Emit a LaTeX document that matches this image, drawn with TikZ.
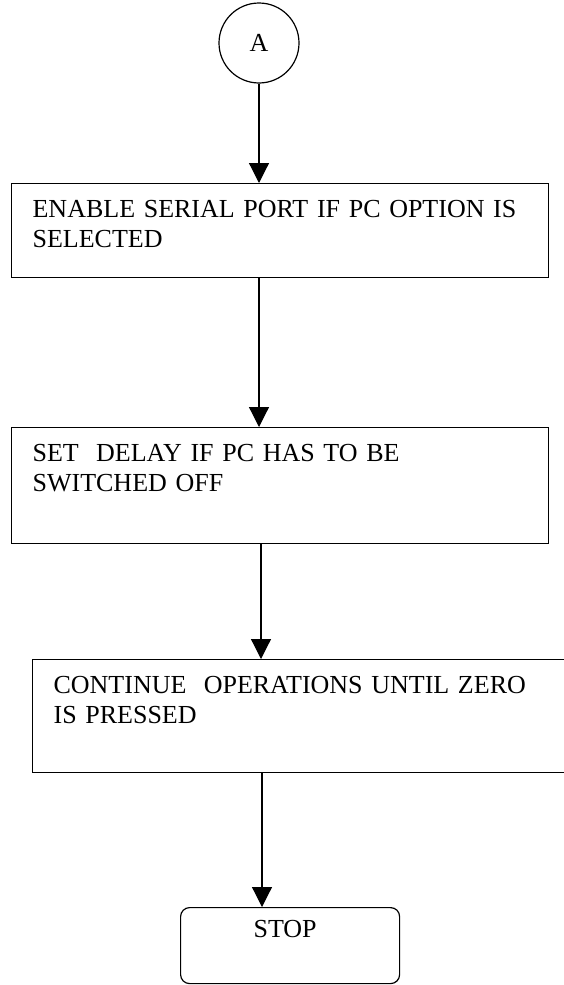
\documentclass[tikz,border=0pt]{standalone}
\usepackage{fontspec}
\setmainfont{Liberation Serif}
\usetikzlibrary{positioning, arrows.meta}

\tikzset{
  flowfont/.style={font=\fontsize{26}{30}\selectfont},
  procbox/.style={draw, rectangle, anchor=north west, flowfont, align=left,
    text width=#1, inner xsep=21pt, inner ysep=16pt, text height=18pt},
  connector/.style={draw, circle, flowfont, minimum size=80pt, inner sep=0pt},
  stopbox/.style={draw, rectangle, rounded corners=9pt, anchor=north west, flowfont,
    minimum width=219pt, inner ysep=12pt, text height=18pt, text depth=34pt}
}

\begin{document}
\begin{tikzpicture}[x=1pt, y=-1pt, >={Triangle[width=20pt,length=20pt]}, line width=1.2pt]
  \useasboundingbox (0,0) rectangle (563,985);

  \node[connector] (A) at (259,43) {A};
  \node[procbox=495pt, text depth=44pt] (enable) at (11,183)
    {ENABLE SERIAL PORT IF PC OPTION IS\\SELECTED};
  \node[procbox=495pt, text depth=66pt] (delay) at (11,427)
    {SET\ \ DELAY IF PC HAS TO BE\\SWITCHED OFF};
  \node[procbox=518pt, text depth=63pt] (cont) at (32,659)
    {CONTINUE\ \ OPERATIONS UNTIL ZERO\\IS PRESSED};
  \node[stopbox] (stop) at (180,907) {STOP\hspace*{10pt}};

  % flow lines, all on the connector's axis
  \draw[->] (A) -- (A |- enable.north);
  \draw[->] (enable.south -| A) -- (delay.north -| A);
  \draw[->] ([xshift=2pt]delay.south -| A) -- ([xshift=2pt]cont.north -| A);
  \draw[->] ([xshift=3pt]cont.south -| A) -- ([xshift=3pt]stop.north -| A);
\end{tikzpicture}
\end{document}
